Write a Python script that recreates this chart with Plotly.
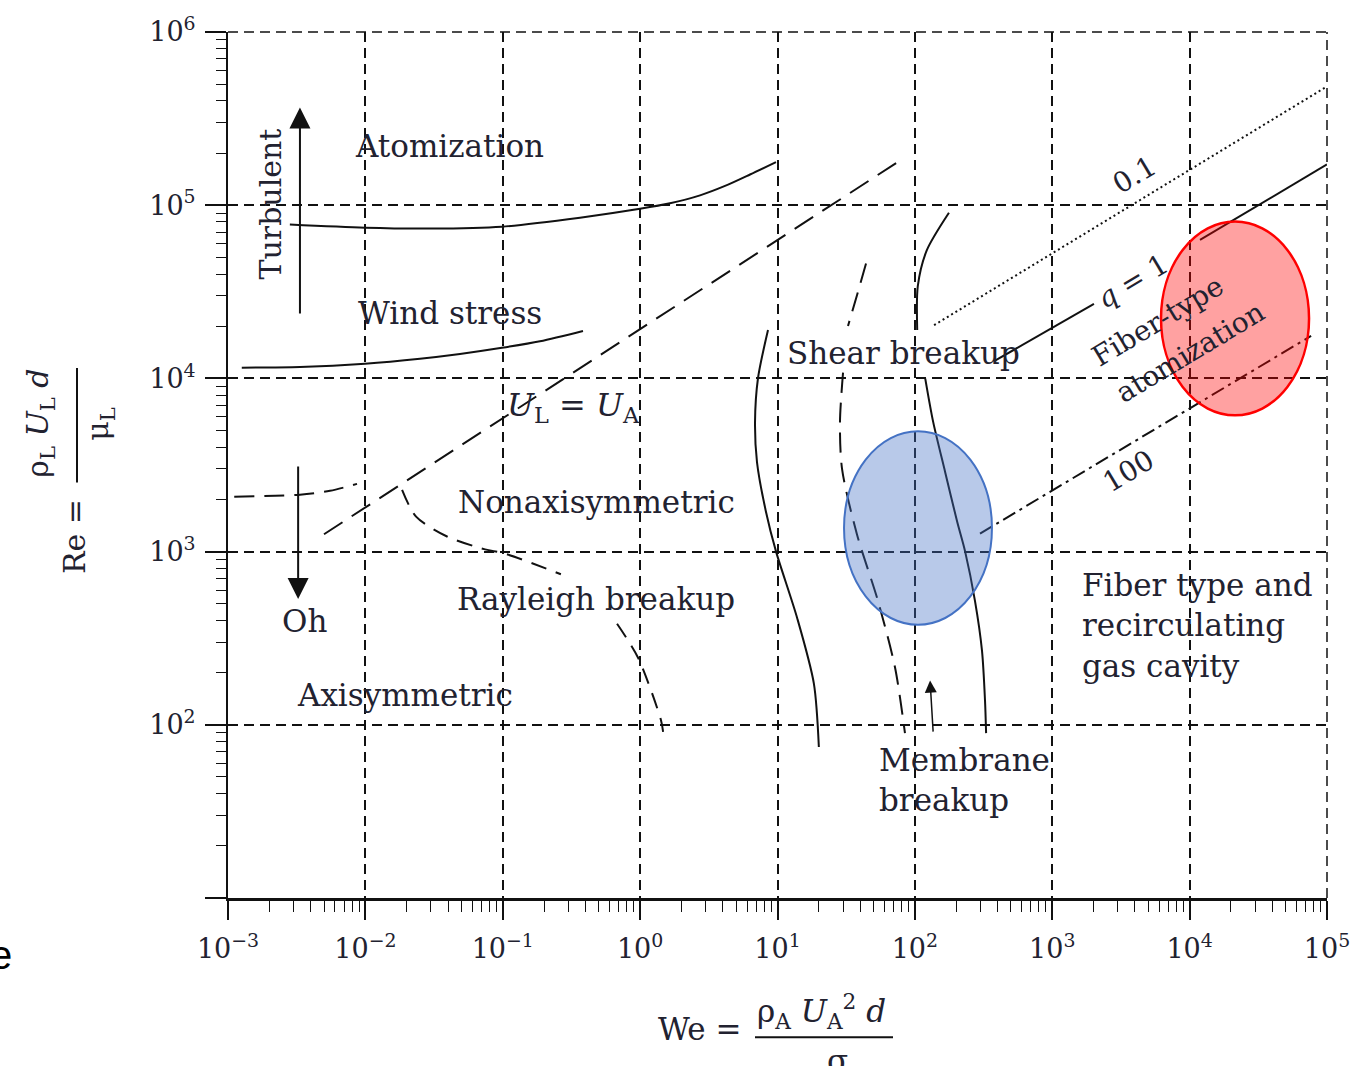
import math
import plotly.graph_objects as go

# ---------------- data (We, Re) ----------------
atom_we = [0.00282, 0.00993, 0.0295, 0.0986, 0.365, 0.998, 1.65, 2.73, 4.15, 6.31, 9.75]
atom_re = [77300, 74100, 73300, 75200, 84700, 95300, 102500, 114000, 129200, 150400, 177400]

wind_we = [0.00126, 0.00334, 0.00993, 0.02497, 0.0488, 0.0986, 0.1866, 0.3838]
wind_re = [11530, 11640, 12160, 12990, 13840, 15020, 16390, 18800]

ula_we = [0.005, 73]
ula_re = [1260, 175000]

oh_we = [0.00111, 0.00334, 0.00553, 0.00869]
oh_re = [2075, 2130, 2245, 2460]

ray1_we = [0.0185, 0.0234, 0.0393, 0.0743, 0.102, 0.265]
ray1_re = [2275, 1592, 1222, 1030, 977, 740]
ray2_we = [0.679, 0.966, 1.42, 1.47]
ray2_re = [383, 244, 106, 91]

shl_we = [8.53, 7.21, 6.86, 7.09, 8.24, 9.75, 13.9, 18.4, 20.0]
shl_re = [19050, 10020, 5590, 3290, 1700, 1003, 414, 173, 74.5]

mem1_we = [44.1, 37.9, 32.6]
mem1_re = [46100, 30200, 20080]
mem2_we = [30.0, 28.5, 29.5, 37.9, 53.9, 71.7, 84.7]
mem2_re = [10790, 5580, 3000, 1256, 518, 214, 89.5]

up_we = [177, 122, 105, 104]
up_re = [90400, 54800, 34100, 19050]

rs_we = [119, 136, 166, 203, 232, 274, 308, 324, 330]
rs_re = [9980, 5590, 2885, 1490, 1003, 518, 268, 138, 89.5]

q01_we = [138, 96600]
q01_re = [20300, 477000]

q1a_we = [383, 2012]
q1a_re = [12650, 26900]
q1b_we = [11900, 100000]
q1b_re = [63000, 172000]

q100_we = [298, 76600]
q100_re = [1270, 17600]

x_tickvals = [1e-3, 1e-2, 1e-1, 1e0, 1e1, 1e2, 1e3, 1e4, 1e5]
x_ticktext = ["10<sup>−3</sup>", "10<sup>−2</sup>", "10<sup>−1</sup>", "10<sup>0</sup>",
              "10<sup>1</sup>", "10<sup>2</sup>", "10<sup>3</sup>", "10<sup>4</sup>", "10<sup>5</sup>"]
y_tickvals = [1e1, 1e2, 1e3, 1e4, 1e5, 1e6]
y_ticktext = ["", "10<sup>2</sup>", "10<sup>3</sup>", "10<sup>4</sup>", "10<sup>5</sup>", "10<sup>6</sup>"]
x_minor = [m * 10.0 ** k for k in range(-3, 5) for m in range(2, 10)]
y_minor = [m * 10.0 ** k for k in range(1, 6) for m in range(2, 10)]

# ---------------- figure ----------------
INK = "#111111"
TXT = "#222230"
SERIF = "DejaVu Serif"
GRID_DASH = "10px,6px"

fig = go.Figure()


def add_curve(we, re, dash="solid", width=2.0, shape="spline"):
    fig.add_trace(go.Scatter(
        x=we, y=re, mode="lines",
        line=dict(color=INK, width=width, dash=dash, shape=shape, smoothing=0.8),
        hoverinfo="skip", showlegend=False))


add_curve(atom_we, atom_re)
add_curve(wind_we, wind_re)
add_curve(ula_we, ula_re, dash="22px,11px", shape="linear")
add_curve(oh_we, oh_re, dash="20px,10px")
add_curve(ray1_we, ray1_re, dash="16px,10px")
add_curve(ray2_we, ray2_re, dash="16px,10px")
add_curve(shl_we, shl_re)
add_curve(mem1_we, mem1_re, dash="20px,10px")
add_curve(mem2_we, mem2_re, dash="20px,10px")
add_curve(up_we, up_re)
add_curve(rs_we, rs_re)
add_curve(q01_we, q01_re, dash="2px,3px", shape="linear")
add_curve(q1a_we, q1a_re, shape="linear")
add_curve(q1b_we, q1b_re, shape="linear")
add_curve(q100_we, q100_re, dash="14px,5px,3px,5px", shape="linear")

L = math.log10


def label(text, we, re, size=31, angle=0, xanchor="center", align="center"):
    fig.add_annotation(x=L(we), y=L(re), xref="x", yref="y", text=text, showarrow=False,
                       textangle=angle, xanchor=xanchor, yanchor="middle", align=align,
                       font=dict(family=SERIF, size=size, color=TXT))


label("Atomization", 0.0413, 219000)
label("Turbulent", 0.00205, 102000, angle=-90, size=30)
label("Wind stress", 0.0413, 23800)
label("<i>U</i><sub>L</sub> = <i>U</i><sub>A</sub>", 0.33, 6810, size=32)
label("Nonaxisymmetric", 0.478, 1941)
label("Rayleigh breakup", 0.478, 532)
label("Oh", 0.00363, 398)
label("Axisymmetric", 0.0194, 148)
label("Shear breakup", 82.0, 14060)
label("0.1", 4000, 151000, angle=-31, size=28)
label("<i>q</i> = 1", 3810, 36400, angle=-31, size=28)
label("Fiber-type", 5800, 21400, angle=-31, size=28)
label("atomization", 10070, 14060, angle=-31, size=28)
label("100", 3560, 2884, angle=-31, size=28)
label("Fiber type and<br>recirculating<br>gas cavity", 1592, 372, xanchor="left", align="left")
label("Membrane<br>breakup", 53, 48.1, xanchor="left", align="left")


def arrow(we_tip, re_tip, we_tail, re_tail, size, width):
    fig.add_annotation(x=L(we_tip), y=L(re_tip), ax=L(we_tail), ay=L(re_tail),
                       xref="x", yref="y", axref="x", ayref="y", text="",
                       showarrow=True, arrowhead=2, arrowsize=size, arrowwidth=width,
                       arrowcolor=INK)


arrow(0.00334, 366000, 0.00334, 23200, 2.1, 2)
arrow(0.00324, 532, 0.00324, 3162, 2.1, 2)
arrow(129, 180, 136, 89.5, 1.6, 1.5)

# dashed frame on the top and right edges (continuation of the grid)
fig.add_shape(type="line", xref="paper", yref="paper", x0=0, x1=1, y0=1, y1=1,
              line=dict(color=INK, width=1.5, dash=GRID_DASH), layer="below")
fig.add_shape(type="line", xref="paper", yref="paper", x0=1, x1=1, y0=0, y1=1,
              line=dict(color=INK, width=1.5, dash=GRID_DASH), layer="below")

# highlight ellipses
fig.add_shape(type="circle", xref="x", yref="y", x0=30.5, x1=364, y0=378, y1=4950,
              fillcolor="rgba(68,114,196,0.38)", line=dict(color="#4472C4", width=2), layer="above")
fig.add_shape(type="circle", xref="x", yref="y", x0=6190, x1=74000, y0=6120, y1=80400,
              fillcolor="rgba(255,0,0,0.37)", line=dict(color="#FF0000", width=2.5), layer="above")

# ---------------- axis titles (built as fractions) ----------------
W, H = 1365, 1066
ML, MR, MT, MB = 228, 38, 27, 168
PW, PH = W - ML - MR, H - MT - MB


def px(xp):
    return (xp - ML) / PW


def py(yp):
    return (H - MB - yp) / PH


def ptext(text, xp, yp, size, angle=0):
    fig.add_annotation(x=px(xp), y=py(yp), xref="paper", yref="paper", text=text,
                       showarrow=False, textangle=angle, xanchor="center", yanchor="middle",
                       font=dict(family=SERIF, size=size, color=TXT))


# y title
ptext("Re =", 74, 535, 30, angle=-90)
ptext("ρ<sub>L</sub> <i>U</i><sub>L</sub> <i>d</i>", 40, 421, 30, angle=-90)
ptext("μ<sub>L</sub>", 100, 421, 30, angle=-90)
fig.add_shape(type="line", xref="paper", yref="paper", x0=px(77), x1=px(77), y0=py(365), y1=py(480),
              line=dict(color=INK, width=2))
# x title
ptext("We =", 700, 1030, 31)
ptext("ρ<sub>A</sub> <i>U</i><sub>A</sub><sup>2</sup> <i>d</i>", 821, 1012, 31)
ptext("σ", 837, 1062, 31)
fig.add_shape(type="line", xref="paper", yref="paper", x0=px(755), x1=px(893), y0=py(1038), y1=py(1038),
              line=dict(color=INK, width=2))
# stray cropped glyph at the left edge of the source image
fig.add_annotation(x=px(14), y=py(955), xref="paper", yref="paper", text="e", showarrow=False,
                   xanchor="right", yanchor="middle",
                   font=dict(family="Liberation Sans", size=40, color="#000"))

tickfont = dict(family=SERIF, size=27, color=TXT)
fig.update_layout(
    width=W, height=H,
    margin=dict(l=ML, r=MR, t=MT, b=MB, pad=0),
    paper_bgcolor="white", plot_bgcolor="white",
    showlegend=False,
    xaxis=dict(type="log", range=[-3, 5], tickmode="array", tickvals=x_tickvals, ticktext=x_ticktext,
               ticks="outside", ticklen=19, tickwidth=1.5, tickcolor=INK,
               showline=True, linewidth=3, linecolor=INK, mirror=False,
               showgrid=True, gridcolor=INK, gridwidth=1.5, griddash=GRID_DASH, zeroline=False,
               minor=dict(tickmode="array", tickvals=x_minor, ticks="outside", ticklen=11,
                          tickwidth=1.2, tickcolor=INK, showgrid=False),
               tickfont=tickfont, ticklabelstandoff=6),
    yaxis=dict(type="log", range=[1, 6], tickmode="array", tickvals=y_tickvals, ticktext=y_ticktext,
               ticks="outside", ticklen=21, tickwidth=1.5, tickcolor=INK,
               showline=True, linewidth=2, linecolor=INK, mirror=False,
               showgrid=True, gridcolor=INK, gridwidth=1.5, griddash=GRID_DASH, zeroline=False,
               minor=dict(tickmode="array", tickvals=y_minor, ticks="outside", ticklen=10,
                          tickwidth=1.2, tickcolor=INK, showgrid=False),
               tickfont=tickfont, ticklabelstandoff=4),
)

fig.write_html("out.html")
